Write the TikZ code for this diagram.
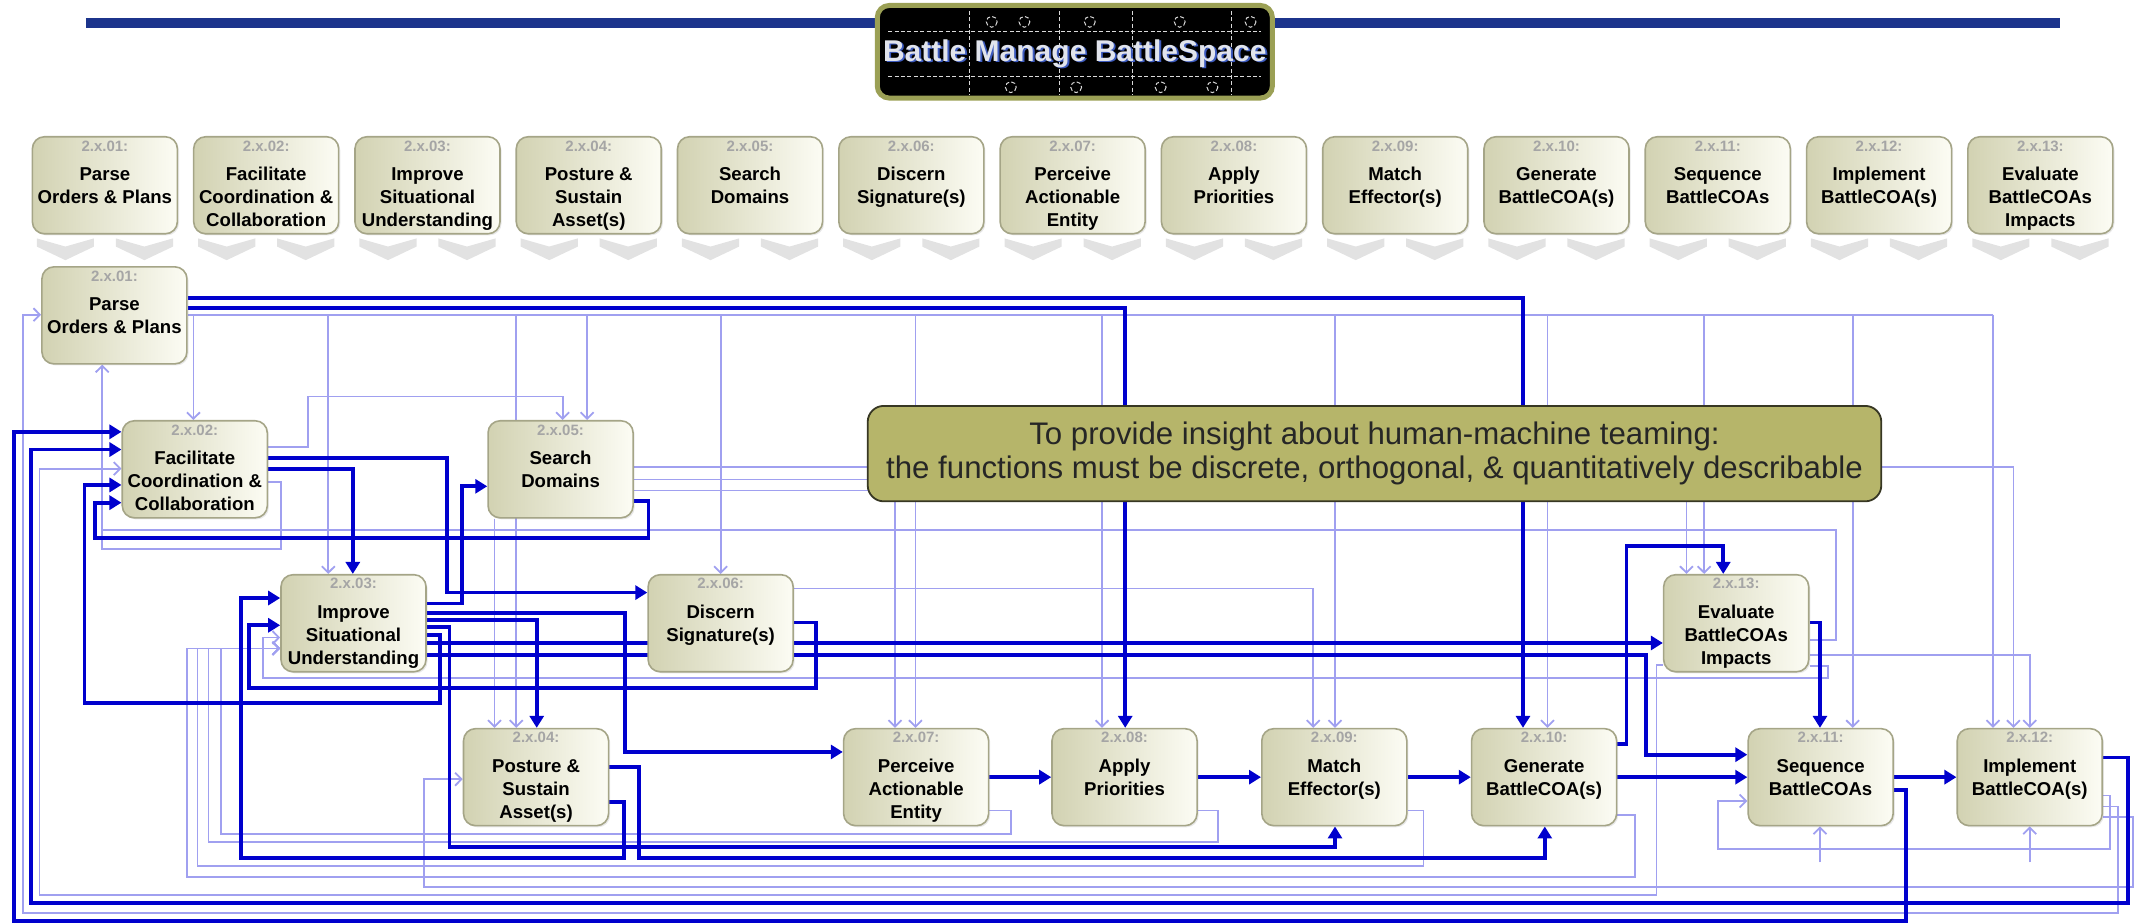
\documentclass[tikz,border=0pt]{standalone}
\usepackage{fontspec}
\setmainfont{Liberation Sans}
\usetikzlibrary{arrows.meta,shadows}

\definecolor{dkblue}{RGB}{0,0,205}
\definecolor{ltblue}{RGB}{160,160,240}
\definecolor{navy}{RGB}{28,52,140}
\definecolor{titleolive}{RGB}{155,160,85}
\definecolor{titlegray}{RGB}{225,228,236}
\definecolor{titleblue}{RGB}{60,90,190}
\definecolor{callfill}{RGB}{182,181,106}
\definecolor{callline}{RGB}{55,55,35}
\definecolor{boxL}{RGB}{210,210,178}
\definecolor{boxR}{RGB}{252,252,244}
\definecolor{boxline}{RGB}{165,165,135}
\definecolor{lblgray}{RGB}{165,165,165}
\definecolor{chev}{RGB}{226,226,226}

\pgfdeclarelayer{bg}
\pgfsetlayers{bg,main}

\newcommand\lblstyle{\fontsize{7.5}{9}\selectfont\color{lblgray}}
\newcommand\fnode[4]{%
  \node[fbx] (#1) at (#2) {};
  \node[ftx,anchor=north] at ([yshift=-2.1pt]#1.north) {{\lblstyle 2.x.#3:}\\[3.0pt]#4};}
\newcommand\chevron[1]{%
  \fill[chev] (#1-21,175) -- (#1,181) -- (#1+21,175) -- (#1+21,181) -- (#1,191) -- (#1-21,181) -- cycle;}

\begin{document}
\begin{tikzpicture}[x=0.681pt,y=-0.681pt,
  fbx/.style={rounded corners=6pt, draw=boxline, line width=0.8pt,
    left color=boxL, right color=boxR, minimum width=72.5pt,
    minimum height=48.5pt, inner sep=0pt,
    drop shadow={opacity=0.18,shadow xshift=0.8pt,shadow yshift=-0.8pt}},
  ftx/.style={align=center, inner sep=0pt,
    font=\fontsize{9.3}{11.6}\selectfont\bfseries, text=black},
  dk/.style={draw=dkblue, line width=1.9pt, -{Triangle[length=6pt,width=7pt]}},
  lt/.style={draw=ltblue, line width=0.9pt, -{Straight Barb[length=3.2pt,width=6.5pt]}},
  ltl/.style={draw=ltblue, line width=0.9pt}]

\useasboundingbox (0,0) rectangle (1568,678);

% ---------- title bar ----------
\draw[navy, line width=4.8pt] (63,17) -- (1512,17);
\node[draw=titleolive, line width=2.5pt, fill=black, rounded corners=6pt,
      minimum width=197.5pt, minimum height=46.3pt, inner sep=0pt] (title) at (789,38) {};
\begin{scope}[white!85!black, line width=0.5pt, dash pattern=on 2pt off 1.2pt]
  \draw (652,23) -- (926,23);
  \draw (652,56) -- (926,56);
  \foreach \px in {712,778,831,904} \draw (\px,8) -- (\px,70);
  \foreach \px/\py in {728/16,752/16,800/16,866/16,918/16,742/64,790/64,852/64,890/64}
    \draw (\px,\py) circle (4);
\end{scope}
\node[text=titleblue, font=\fontsize{15}{18}\selectfont\bfseries] at (790.4,40.4) {Battle Manage BattleSpace};
\node[text=titlegray, font=\fontsize{15}{18}\selectfont\bfseries] (titletext) at (789,39.4) {Battle Manage BattleSpace};

% ---------- top row of functions ----------
\fnode{t1}{77,136}{01}{Parse\\Orders \& Plans}
\fnode{t2}{195.4,136}{02}{Facilitate\\Coordination \&\\Collaboration}
\fnode{t3}{313.8,136}{03}{Improve\\Situational\\Understanding}
\fnode{t4}{432.2,136}{04}{Posture \&\\Sustain\\Asset(s)}
\fnode{t5}{550.6,136}{05}{Search\\Domains}
\fnode{t6}{669,136}{06}{Discern\\Signature(s)}
\fnode{t7}{787.4,136}{07}{Perceive\\Actionable\\Entity}
\fnode{t8}{905.8,136}{08}{Apply\\Priorities}
\fnode{t9}{1024.2,136}{09}{Match\\Effector(s)}
\fnode{t10}{1142.6,136}{10}{Generate\\BattleCOA(s)}
\fnode{t11}{1261,136}{11}{Sequence\\BattleCOAs}
\fnode{t12}{1379.4,136}{12}{Implement\\BattleCOA(s)}
\fnode{t13}{1497.8,136}{13}{Evaluate\\BattleCOAs\\Impacts}
\foreach \c in {77,195.4,313.8,432.2,550.6,669,787.4,905.8,1024.2,1142.6,1261,1379.4,1497.8}{
  \pgfmathsetmacro\ca{\c-29}\pgfmathsetmacro\cb{\c+29}
  \chevron{\ca}\chevron{\cb}}

% ---------- network of functions ----------
\fnode{n1}{84,231.5}{01}{Parse\\Orders \& Plans}
\fnode{n2}{143,344.5}{02}{Facilitate\\Coordination \&\\Collaboration}
\fnode{n5}{411.5,344.5}{05}{Search\\Domains}
\fnode{n3}{259.5,457.5}{03}{Improve\\Situational\\Understanding}
\fnode{n6}{529,457.5}{06}{Discern\\Signature(s)}
\fnode{n4}{393.5,570.5}{04}{Posture \&\\Sustain\\Asset(s)}
\fnode{n7}{672.5,570.5}{07}{Perceive\\Actionable\\Entity}
\fnode{n8}{825.5,570.5}{08}{Apply\\Priorities}
\fnode{n9}{979.5,570.5}{09}{Match\\Effector(s)}
\fnode{n10}{1133.5,570.5}{10}{Generate\\BattleCOA(s)}
\fnode{n13}{1274.5,457.5}{13}{Evaluate\\BattleCOAs\\Impacts}
\fnode{n11}{1336.5,570.5}{11}{Sequence\\BattleCOAs}
\fnode{n12}{1490,570.5}{12}{Implement\\BattleCOA(s)}

\begin{pgfonlayer}{bg}
% light links: orders bus from 2.x.01
\draw[ltl] (n1.east |- 0,231) -- (1463,231);
\foreach \px/\tn in {142/n2,431/n5}
  \draw[lt] (\px,231) -- (\tn.north -| \px,0);
\foreach \px/\tn in {241/n3,529/n6,1251/n13}
  \draw[lt] (\px,231) -- (\tn.north -| \px,0);
\foreach \px/\tn in {379/n4,672/n7,809/n8,980/n9,1136/n10,1360/n11,1463/n12}
  \draw[lt] (\px,231) -- (\tn.north -| \px,0);
% other light links
\draw[lt] (n2.east |- 0,328) -- (226,328) -- (226,291) -| (n5.north -| 413,0);
\draw[lt] (n5.east |- 0,343) -| (n12.north -| 1478,0);
\draw[lt] (n5.east |- 0,352) -| (n13.north -| 1238,0);
\draw[lt] (n5.east |- 0,360) -| (n7.north -| 657,0);
\draw[lt] (n6.east |- 0,432) -| (n9.north -| 964,0);
\draw[lt] (n5.south -| 363,0) -- (n4.north -| 363,0);
\draw[lt] (n13.east |- 0,481) -| (n12.north -| 1490,0);
\draw[lt] (n12.east |- 0,592) -- (1555,592) -- (1555,670) -- (17,670) |- (n1.west |- 0,231);
\draw[lt] (n12.east |- 0,600) -- (1566,600) -- (1566,651) -- (311,651) |- (n4.west |- 0,572);
\draw[lt] (n12.east |- 0,584) -- (1549,584) -- (1549,623) -- (1261,623) |- (n11.west |- 0,588);
\draw[lt] (n2.east |- 0,354) -- (206,354) -- (206,403) -- (75,403) -- (n1.south -| 75,0);
\draw[ltl] (n13.east |- 0,470) -- (1348,470) -- (1348,389) -- (75,389);
\draw[lt] (n13.west |- 0,488) -- (1216,488) -- (1216,657) -- (29,657) |- (n2.west |- 0,344);
\draw[lt] (n7.east |- 0,595) -- (742,595) -- (742,612) -- (162,612) |- (n3.west |- 0,476);
\draw[lt] (n8.east |- 0,595) -- (894,595) -- (894,618) -- (153,618) |- (n3.west |- 0,476);
\draw[lt] (n9.east |- 0,595) -- (1045,595) -- (1045,636) -- (145,636) |- (n3.west |- 0,476);
\draw[lt] (n10.east |- 0,598) -- (1200,598) -- (1200,644) -- (137,644) |- (n3.west |- 0,476);
\draw[lt] (n13.east |- 0,489) -- (1342,489) -- (1342,498) -- (193,498) |- (n3.west |- 0,468);
\draw[lt] (1336,633) -- (n11.south -| 1336,0);
\draw[lt] (1490,633) -- (n12.south);

% dark links
\draw[dk] (n1.east |- 0,219) -| (n10.north -| 1118,0);
\draw[dk] (n1.east |- 0,226) -| (n8.north -| 826,0);
\draw[dk] (n2.east |- 0,344) -| (n3.north -| 259,0);
\draw[dk] (n2.east |- 0,336) -- (328,336) |- (n6.west |- 0,435);
\draw[dk] (n3.east |- 0,443) -- (339,443) |- (n5.west |- 0,357);
\draw[dk] (n3.east |- 0,450) -- (459,450) |- (n7.west |- 0,552);
\draw[dk] (n3.east |- 0,455) -| (n4.north -| 394,0);
\draw[dk] (n3.east |- 0,460) -- (330,460) -- (330,622) -| (n9.south -| 980,0);
\draw[dk] (n3.east |- 0,466) -- (323,466) -- (323,516) -- (62,516) |- (n2.west |- 0,356);
\draw[dk] (n3.east |- 0,472) -- (n13.west |- 0,472);
\draw[dk] (n3.east |- 0,481) -- (1208,481) |- (n11.west |- 0,554);
\draw[dk] (n4.east |- 0,589) -- (458,589) -- (458,630) -- (177,630) |- (n3.west |- 0,439);
\draw[dk] (n4.east |- 0,563) -- (469,563) -- (469,630) -| (n10.south -| 1134,0);
\draw[dk] (n6.east |- 0,457) -- (599,457) -- (599,505) -- (183,505) |- (n3.west |- 0,459);
\draw[dk] (n5.east |- 0,368) -- (476,368) -- (476,395) -- (70,395) |- (n2.west |- 0,369);
\draw[dk] (n11.east |- 0,580) -- (1399,580) -- (1399,676) -- (10,676) |- (n2.west |- 0,317);
\draw[dk] (n12.east |- 0,556) -- (1562,556) -- (1562,663) -- (23,663) |- (n2.west |- 0,330);
\draw[dk] (n7.east) -- (n8.west);
\draw[dk] (n8.east) -- (n9.west);
\draw[dk] (n9.east) -- (n10.west);
\draw[dk] (n10.east) -- (n11.west);
\draw[dk] (n11.east) -- (n12.west);
\draw[dk] (n10.east |- 0,546) -- (1194,546) -- (1194,401) -| (n13.north -| 1265,0);
\draw[dk] (n13.east |- 0,457) -| (n11.north -| 1336,0);
\end{pgfonlayer}

% ---------- statement ----------
\node[draw=callline, line width=0.9pt, fill=callfill, rounded corners=8pt,
      minimum width=506.7pt, minimum height=47.7pt, inner sep=0pt,
      align=center, font=\fontsize{15.6}{17}\selectfont, text=black!85] (note) at (1009,333)
  {To provide insight about human-machine teaming:\\
   the functions must be discrete, orthogonal, \& quantitatively describable};
\end{tikzpicture}
\end{document}
